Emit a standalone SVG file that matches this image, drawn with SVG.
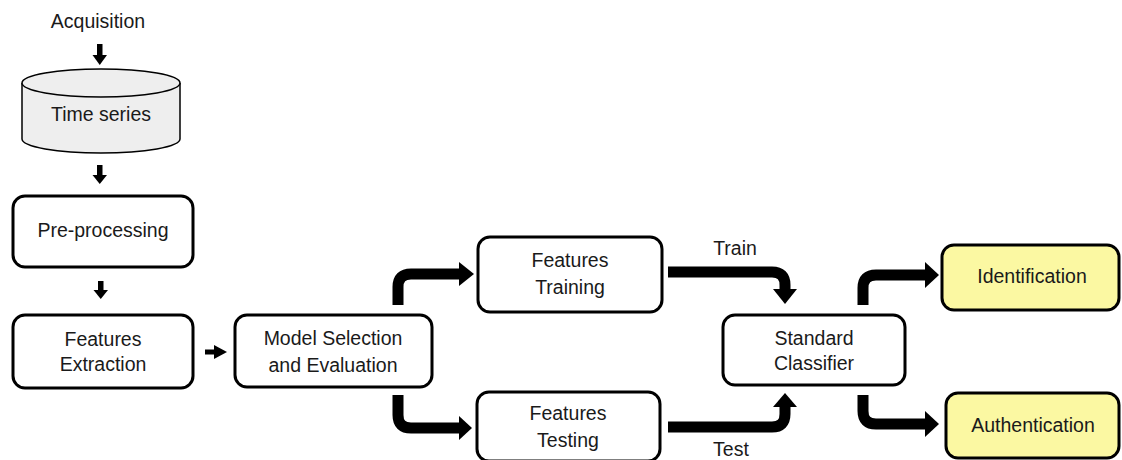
<svg xmlns="http://www.w3.org/2000/svg" width="1122" height="460" viewBox="0 0 1122 460">
<style>
text{font-family:"Liberation Sans",Arial,sans-serif;font-size:19.5px;fill:#1a1a1a;text-anchor:middle}
.box{fill:#ffffff;stroke:#000;stroke-width:3}
.yel{fill:#fbf8a2;stroke:#000;stroke-width:3}
.cyl{fill:#eeeeee;stroke:#000;stroke-width:1.5}
.shaft{fill:none;stroke:#000;stroke-width:11}
.head{fill:#000}
</style>
<rect width="1122" height="460" fill="#fff"/>
<g id="acquisition"><text x="98" y="28">Acquisition</text></g>
<g id="time-series">
<path class="cyl" d="M22,83 V139 A79,14 0 0 0 180,139 V83"/>
<ellipse class="cyl" cx="101" cy="83" rx="79" ry="14"/>
<text x="101" y="121">Time series</text>
</g>
<g id="pre-processing"><rect class="box" x="13" y="196" width="180" height="71" rx="12"/><text x="103" y="237">Pre-processing</text></g>
<g id="features-extraction"><rect class="box" x="13" y="315" width="180" height="73" rx="12"/><text x="103" y="346">Features</text><text x="103" y="371">Extraction</text></g>
<g id="model-selection"><rect class="box" x="235" y="315" width="197" height="72" rx="12"/><text x="333" y="345">Model Selection</text><text x="333" y="372">and Evaluation</text></g>
<g id="features-training"><rect class="box" x="478" y="237" width="184" height="75" rx="12"/><text x="570" y="267">Features</text><text x="570" y="294">Training</text></g>
<g id="features-testing"><rect class="box" x="477" y="392" width="183" height="69" rx="12"/><text x="568" y="420">Features</text><text x="568" y="447">Testing</text></g>
<g id="standard-classifier"><rect class="box" x="723" y="315" width="182" height="70" rx="12"/><text x="814" y="345">Standard</text><text x="814" y="370">Classifier</text></g>
<g id="identification"><rect class="yel" x="942" y="245" width="177" height="65" rx="12"/><text x="1032" y="283">Identification</text></g>
<g id="authentication"><rect class="yel" x="946" y="393" width="173" height="65" rx="12"/><text x="1033" y="432">Authentication</text></g>
<g id="connectors">
<rect class="head" x="97" y="44" width="5.5" height="12"/><polygon class="head" points="92.5,55 107,55 99.75,65"/>
<rect class="head" x="97" y="165" width="5.5" height="11"/><polygon class="head" points="92.5,175 107,175 99.75,184"/>
<rect class="head" x="98" y="281" width="5.5" height="10"/><polygon class="head" points="93.5,290 108,290 100.75,299"/>
<rect class="head" x="205" y="349.5" width="10" height="5"/><polygon class="head" points="214,345 227,352 214,359"/>
<path class="shaft" d="M398,305 V287 Q398,274 411,274 H461"/><polygon class="head" points="459,262 474,274 459,286"/>
<path class="shaft" d="M398,395 V415 Q398,428 411,428 H461"/><polygon class="head" points="459,416 472,428 459,440"/>
<path class="shaft" d="M668,272 H772 Q785,272 785,285 V291"/><polygon class="head" points="773,289 785,304 797,289"/>
<path class="shaft" d="M668,427 H772 Q785,427 785,414 V406"/><polygon class="head" points="773,407 785,393 797,407"/>
<path class="shaft" d="M863,305 V288 Q863,275 876,275 H927"/><polygon class="head" points="925,262 939,275 925,288"/>
<path class="shaft" d="M863,395 V411 Q863,424 876,424 H927"/><polygon class="head" points="925,411 939,424 925,437"/>
<text x="735" y="255">Train</text>
<text x="731" y="456">Test</text>
</g>
</svg>
